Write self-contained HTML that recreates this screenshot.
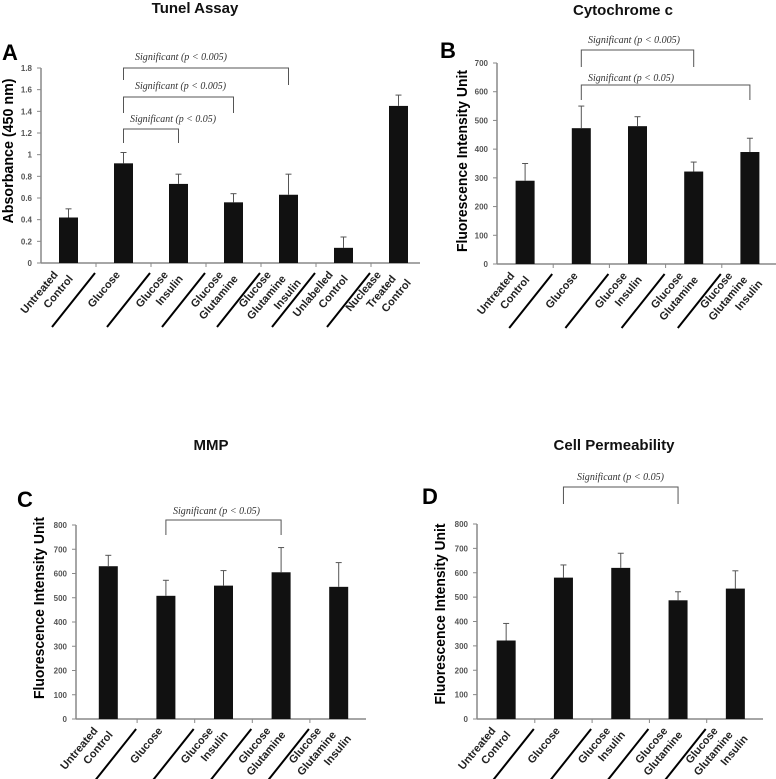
<!DOCTYPE html>
<html><head><meta charset="utf-8"><style>
html,body{margin:0;padding:0;background:#fff;width:776px;height:779px;overflow:hidden}
svg{display:block}
</style></head><body>
<svg id="fig" width="776" height="779" viewBox="0 0 776 779" xmlns="http://www.w3.org/2000/svg"></svg>
<script>
// ---- Data ----
const catsA = [["Untreated","Control"],["Glucose"],["Glucose","Insulin"],["Glucose","Glutamine"],["Glucose","Glutamine","Insulin"],["Unlabelled","Control"],["Nuclease","Treated","Control"]];
const valsA = [0.42,0.92,0.73,0.56,0.63,0.14,1.45];
const errA  = [0.50,1.02,0.82,0.64,0.82,0.24,1.55];
const ticksA = ["0","0.2","0.4","0.6","0.8","1","1.2","1.4","1.6","1.8"];

const catsB = [["Untreated","Control"],["Glucose"],["Glucose","Insulin"],["Glucose","Glutamine"],["Glucose","Glutamine","Insulin"]];
const valsB = [290,473,480,322,390];
const errB  = [350,550,513,355,438];
const ticksB = ["0","100","200","300","400","500","600","700"];

const catsC = catsB;
const valsC = [630,508,550,605,545];
const errC  = [675,572,612,707,645];
const ticksC = ["0","100","200","300","400","500","600","700","800"];

const catsD = catsB;
const valsD = [322,580,620,487,535];
const errD  = [392,632,680,522,608];
const ticksD = ticksC;

const NS="http://www.w3.org/2000/svg";
const svg=document.getElementById('fig');
function mk(tag,attrs,parent){const e=document.createElementNS(NS,tag);for(const k in attrs)e.setAttribute(k,attrs[k]);(parent||svg).appendChild(e);return e;}

function panel(p){
  const g=mk('g',{});
  
  
  const ymax=p.ymax;
  const Y=v=>p.y0-(v/ymax)*(p.y0-p.ytop);
  const X=i=>p.bx+p.step*(i+0.5);
  const t=mk('text',{x:p.tx,y:p.ty,'text-anchor':'middle','font-family':'Liberation Sans, sans-serif','font-weight':'bold','font-size':15,fill:'#111'},g);
  t.textContent=p.title;
  
  
  const L=mk('text',{x:p.lx,y:p.ly,'font-family':'Liberation Sans, sans-serif','font-weight':'bold','font-size':22,fill:'#000'},g);
  L.textContent=p.letter;
  
  
  const yl=mk('text',{x:0,y:0,transform:`translate(${p.ylx},${p.yly}) rotate(-90)`,'text-anchor':'middle','font-family':'Liberation Sans, sans-serif','font-weight':'bold','font-size':15,fill:'#000',textLength:p.yll,lengthAdjust:'spacingAndGlyphs','dominant-baseline':'middle'},g);
  yl.textContent=p.ylabel;
  
  
  const ya=mk('line',{x1:p.ax,y1:p.ytop,x2:p.ax,y2:p.y0,stroke:'#888','stroke-width':1.5},g);
  
  
  const xa=mk('line',{x1:p.ax,y1:p.y0,x2:p.xend,y2:p.y0,stroke:'#888','stroke-width':1.5},g);
  
  
  p.ticks.forEach((lab,k)=>{
    const v=k*p.tstep, y=Y(v);
    mk('line',{x1:p.ax-4,y1:y,x2:p.ax,y2:y,stroke:'#888','stroke-width':1},g);
    const tl=mk('text',{x:p.ax-9,y:y+3,'text-anchor':'end','font-family':'Liberation Sans, sans-serif','font-weight':'bold','font-size':8,fill:'#555'},g);
    tl.textContent=lab;
    
    
  });
  p.cats.forEach((lines,i)=>{
    const cx=X(i);
    if(i<p.cats.length-1){
      const bx=p.bx+p.step*(i+1);
      mk('line',{x1:bx,y1:p.y0,x2:bx,y2:p.y0+4,stroke:'#888','stroke-width':1},g);
      const d=mk('line',{x1:bx-44,y1:p.y0+64,x2:bx-1,y2:p.y0+10,stroke:'#000','stroke-width':2},g);
      
      
    }
    const n=lines.length;
    lines.forEach((s,j)=>{
      const ex=cx-3-7*(n-1)+15*j, ey=p.y0+12+4*j;
      const tt=mk('text',{x:0,y:0,transform:`translate(${ex},${ey}) rotate(-50)`,'text-anchor':'end','font-family':'Liberation Sans, sans-serif','font-weight':'bold','font-size':11,fill:'#222'},g);
      tt.textContent=s;
      
      
    });
    const v=p.vals[i], e=p.errs[i];
    const b=mk('rect',{x:cx-9.5,y:Y(v),width:19,height:p.y0-Y(v),fill:'#111'},g);
    
    
    const el=mk('line',{x1:cx,y1:Y(v),x2:cx,y2:Y(e),stroke:'#555','stroke-width':1},g);
    
    
    mk('line',{x1:cx-3,y1:Y(e),x2:cx+3,y2:Y(e),stroke:'#555','stroke-width':1},g);
  });
  p.sig.forEach(s=>{
    const x1=X(s[0]),x2=X(s[1]);
    const br=mk('path',{d:`M${x1},${s[2]+s[3]}V${s[2]}H${x2}V${s[2]+s[4]}`,fill:'none',stroke:'#555','stroke-width':1},g);
    
    
    const st=mk('text',{x:s[5],y:s[6],'font-family':'Liberation Serif, serif','font-style':'italic','font-size':10.5,fill:'#333',textLength:s[8],lengthAdjust:'spacingAndGlyphs'},g);
    st.textContent=s[7];
    
    
  });
}

panel({name:'panel-a-tunel-assay',title:'Tunel Assay',tx:195,ty:13,letter:'A',lx:2,ly:60,
  ylabel:'Absorbance (450 nm)',ylx:9,yly:151,yll:145,
  ax:41,y0:263,ytop:68,ymax:1.8,tstep:0.2,ticks:ticksA,bx:41,step:55,xend:420,
  cats:catsA,vals:valsA,errs:errA,
  sig:[[1,4,68,12,17,135,60,'Significant (p < 0.005)',92],[1,3,97,16,16,135,89,'Significant (p < 0.005)',91],[1,2,129,14,14,130,122,'Significant (p < 0.05)',86]]});
panel({name:'panel-b-cytochrome-c',title:'Cytochrome c',tx:623,ty:15,letter:'B',lx:440,ly:58,
  ylabel:'Fluorescence Intensity Unit',ylx:463,yly:161,yll:182,
  ax:497,y0:264,ytop:63,ymax:700,tstep:100,ticks:ticksB,bx:497,step:56.2,xend:776,
  cats:catsB,vals:valsB,errs:errB,
  sig:[[1,3,50,17,17,588,43,'Significant (p < 0.005)',92],[1,4,85,15,15,588,81,'Significant (p < 0.05)',86]]});
panel({name:'panel-c-mmp',title:'MMP',tx:211,ty:450,letter:'C',lx:17,ly:507,
  ylabel:'Fluorescence Intensity Unit',ylx:40,yly:608,yll:182,
  ax:76,y0:719,ytop:525,ymax:800,tstep:100,ticks:ticksC,bx:79.5,step:57.6,xend:366,
  cats:catsC,vals:valsC,errs:errC,
  sig:[[1,3,520,15,15,173,514,'Significant (p < 0.05)',87]]});
panel({name:'panel-d-cell-permeability',title:'Cell Permeability',tx:614,ty:450,letter:'D',lx:422,ly:504,
  ylabel:'Fluorescence Intensity Unit',ylx:441,yly:614,yll:181,
  ax:477,y0:719,ytop:524,ymax:800,tstep:100,ticks:ticksD,bx:477.5,step:57.3,xend:763,
  cats:catsD,vals:valsD,errs:errD,
  sig:[[1,3,487,17,17,577,480,'Significant (p < 0.05)',87]]});
</script>
</body></html>
